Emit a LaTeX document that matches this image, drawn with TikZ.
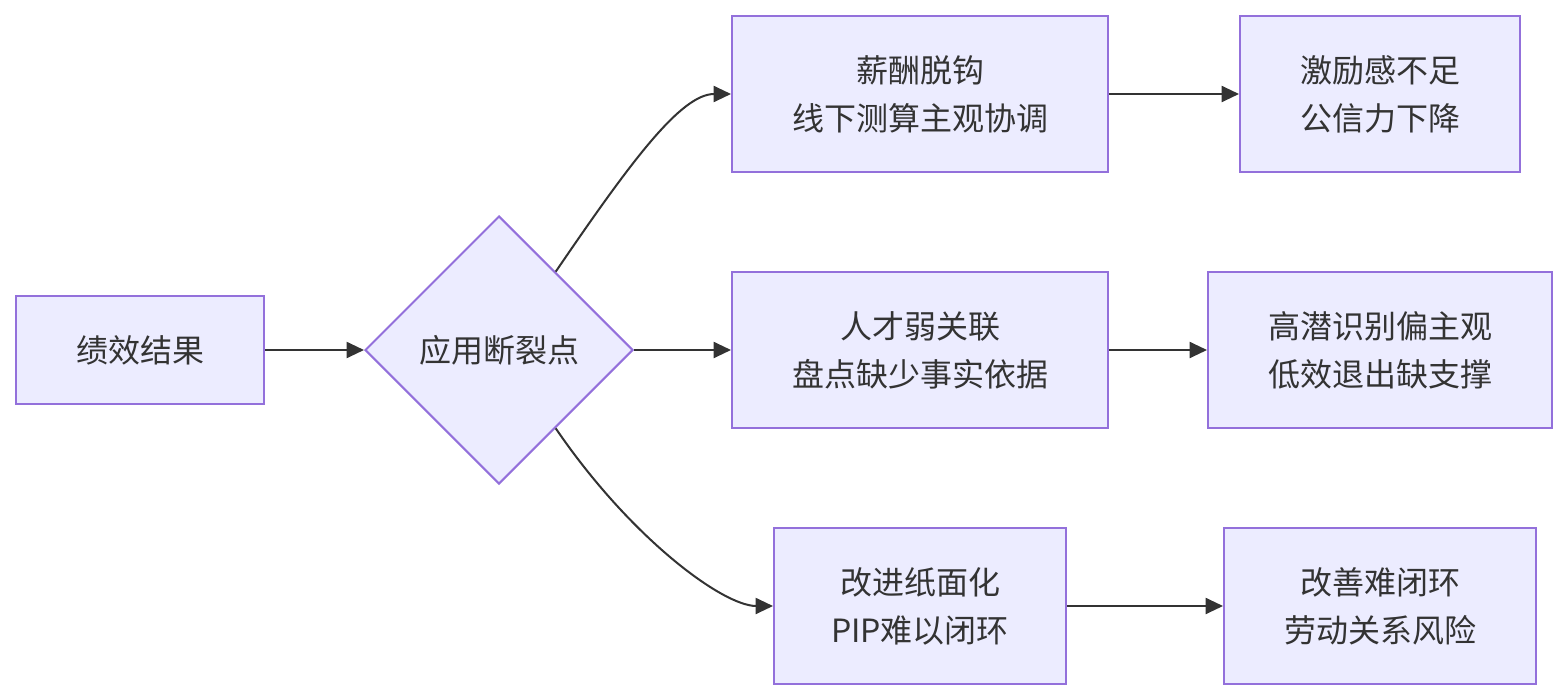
\documentclass[tikz,border=0pt]{standalone}
\usepackage{fontspec}
\setmainfont{Noto Sans CJK SC}
\usetikzlibrary{shapes.geometric,arrows.meta,calc}
\definecolor{boxfill}{HTML}{ECECFF}
\definecolor{boxline}{HTML}{9370DB}
\definecolor{ink}{HTML}{333333}
\begin{document}
\begin{tikzpicture}[x=0.75pt,y=-0.75pt,
  box/.style={draw=boxline,fill=boxfill,line width=1.5pt,inner sep=0pt,
    align=center,text=ink,font=\fontsize{24pt}{36pt}\selectfont},
  dia/.style={box,diamond,aspect=1,minimum width=201pt,minimum height=201pt},
  link/.style={draw=ink,line width=1.5pt,-{Triangle[length=13pt,width=12pt]}}]
\useasboundingbox (0,0) rectangle (1568,700);
\node[box,minimum width=186pt,minimum height=81pt] (A) at (140,350) {绩效结果};
\node[dia] (D) at (499,350) {应用断裂点};
\node[box,minimum width=282pt,minimum height=117pt] (B1) at (920,94) {薪酬脱钩\\线下测算主观协调};
\node[box,minimum width=210pt,minimum height=117pt] (C1) at (1380,94) {激励感不足\\公信力下降};
\node[box,minimum width=282pt,minimum height=117pt] (B2) at (920,350) {人才弱关联\\盘点缺少事实依据};
\node[box,minimum width=258pt,minimum height=117pt] (C2) at (1380,350) {高潜识别偏主观\\低效退出缺支撑};
\node[box,minimum width=219pt,minimum height=117pt] (B3) at (920,606) {改进纸面化\\PIP难以闭环};
\node[box,minimum width=234pt,minimum height=117pt] (C3) at (1380,606) {改善难闭环\\劳动关系风险};
\coordinate (Dt) at ($(D.north)!0.42!(D.east)$);
\coordinate (Db) at ($(D.south)!0.42!(D.east)$);
\draw[link] (A.east) -- (D.west);
\draw[link] (D.east) -- (B2.west);
\draw[link] (Dt) .. controls ($(Dt)+(75,-110)$) and ($(B1.west)+(-50,0)$) .. (B1.west);
\draw[link] (Db) .. controls ($(Db)+(75,110)$) and ($(B3.west)+(-50,0)$) .. (B3.west);
\draw[link] (B1.east) -- (C1.west);
\draw[link] (B2.east) -- (C2.west);
\draw[link] (B3.east) -- (C3.west);
\end{tikzpicture}
\end{document}
